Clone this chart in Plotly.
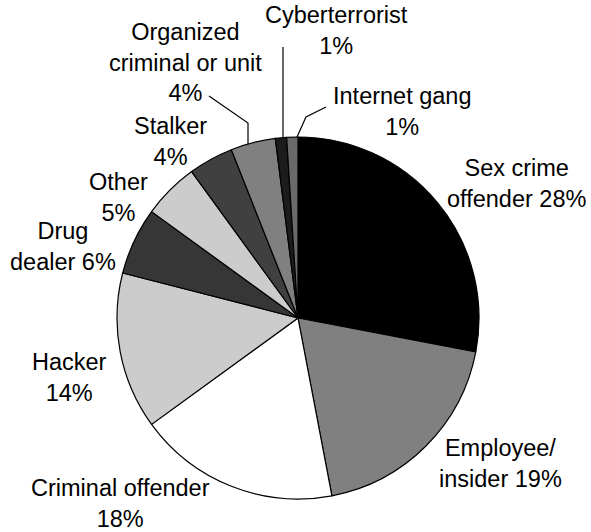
import math
import plotly.graph_objects as go

# Offender categories, clockwise from 12 o'clock
categories = [
    "Sex crime offender", "Employee/insider", "Criminal offender", "Hacker",
    "Drug dealer", "Other", "Stalker", "Organized criminal or unit",
    "Cyberterrorist", "Internet gang",
]
shares = [28, 19, 18, 14, 6, 5, 4, 4, 1, 1]

# Label text templates (line breaks as drawn), filled with the share value
label_templates = [
    "Sex crime<br>offender {}%", "Employee/<br>insider {}%",
    "Criminal offender<br>{}%", "Hacker<br>{}%", "Drug<br>dealer {}%",
    "Other<br>{}%", "Stalker<br>{}%", "Organized<br>criminal or unit<br>{}%",
    "Cyberterrorist<br>{}%", "Internet gang<br>{}%",
]

slice_colors = [
    "#000000", "#808080", "#ffffff", "#cccccc", "#363636",
    "#cccccc", "#404040", "#808080", "#1c1c1c", "#6a6a6a",
]

W, H = 591, 532
ML, MR, MT, MB = 117, 112, 137, 33
PW, PH = W - ML - MR, H - MT - MB
CX, CY = ML + PW / 2, MT + PH / 2
R = min(PW, PH) / 2


def px(x):
    return (x - ML) / PW


def py(y):
    return (MT + PH - y) / PH


# Label block centres in pixels
label_pos = [
    (516, 183), (500, 463), (120, 504), (69, 377), (63, 246),
    (118, 197), (170, 141), (185, 62), (336, 31), (402, 111),
]

FONT = dict(family="Liberation Sans, Arial, sans-serif", size=23.5, color="#000000")

fig = go.Figure(go.Pie(
    labels=categories,
    values=shares,
    sort=False,
    direction="clockwise",
    rotation=0,
    textinfo="none",
    hoverinfo="label+percent",
    marker=dict(colors=slice_colors, line=dict(color="#000000", width=1.2)),
    showlegend=False,
))

for tmpl, val, (lx, ly) in zip(label_templates, shares, label_pos):
    fig.add_annotation(
        x=px(lx), y=py(ly), xref="paper", yref="paper",
        text=tmpl.format(val), showarrow=False,
        xanchor="center", yanchor="middle", align="center", font=FONT,
    )


def rim_y(x):
    # top edge of the pie directly above pixel column x
    return CY - math.sqrt(R * R - (x - CX) ** 2)


# Leader lines for the thin slices: start, optional elbow, end on the rim
leaders = [
    [(209, 96), (248, 123), (248, None)],
    [(283, 47), (283, None)],
    [(326, 107), (306, 117), (297, None)],
]
for pts in leaders:
    coords = [(x, rim_y(x) if y is None else y) for x, y in pts]
    path = "M " + " L ".join(f"{px(x):.5f},{py(y):.5f}" for x, y in coords)
    fig.add_shape(type="path", path=path, xref="paper", yref="paper",
                  line=dict(color="#000000", width=1.2))

fig.update_layout(
    width=W, height=H,
    margin=dict(l=ML, r=MR, t=MT, b=MB),
    paper_bgcolor="#ffffff", plot_bgcolor="#ffffff",
)

fig.write_html("out.html")
